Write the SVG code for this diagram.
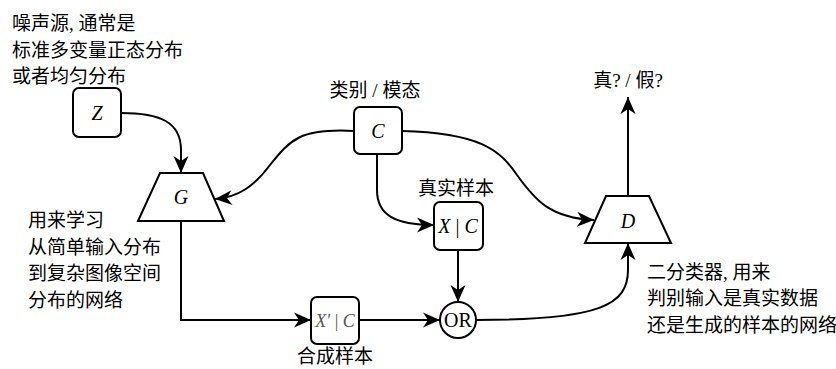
<svg xmlns="http://www.w3.org/2000/svg" width="836" height="369" viewBox="0 0 836 369">
<style>
  .box { fill: #fff; stroke: #000; stroke-width: 2; }
  .edge { fill: none; stroke: #000; stroke-width: 2; marker-end: url(#arr); }
  .lbl { font-family: "Liberation Serif", "Noto Sans CJK SC", serif; font-size: 19px; fill: #000; }
  .math { font-family: "Liberation Serif", serif; font-style: italic; font-size: 20px; fill: #000; }
  .up { font-style: normal; }
  .mid { text-anchor: middle; }
</style>
<defs>
  <marker id="arr" markerUnits="userSpaceOnUse" viewBox="-18 -9 19 18" markerWidth="19" markerHeight="18" refX="0" refY="0" orient="auto" overflow="visible">
    <path d="M0,0 L-17,-7.5 L-12,0 L-17,7.5 Z" fill="#000"/>
  </marker>
</defs>

<g id="connectors">
  <path class="edge" d="M121,113 C160,113 181,122 181,150 L181,173"/>
  <path class="edge" d="M354,131 C300,128 290,140 270,165 C255,185 240,197 215,199"/>
  <path class="edge" d="M402,131 C480,133 500,150 517,175 C535,200 550,218 594,220"/>
  <path class="edge" d="M377,154 L377,190 C377,215 395,225 434,225"/>
  <path class="edge" d="M458,250 L458,302"/>
  <path class="edge" d="M181,221 L181,320 L311,320"/>
  <path class="edge" d="M359,320 L440,320"/>
  <path class="edge" d="M476,320 C600,320 628,305 628,270 L628,243"/>
  <path class="edge" d="M628,196 L628,97"/>
</g>

<g id="noise-label">
  <text class="lbl" x="12" y="30">噪声源, 通常是</text>
  <text class="lbl" x="12" y="57">标准多变量正态分布</text>
  <text class="lbl" x="12" y="83">或者均匀分布</text>
</g>

<g id="node-Z">
  <rect class="box" x="73" y="88" width="48" height="49" rx="6"/>
  <text class="math mid" x="97" y="120">Z</text>
</g>

<g id="node-G">
  <polygon class="box" points="160,173 203,173 224,221 138,221"/>
  <text class="math mid" x="181" y="204">G</text>
</g>

<g id="G-label">
  <text class="lbl" x="28" y="227">用来学习</text>
  <text class="lbl" x="28" y="254">从简单输入分布</text>
  <text class="lbl" x="28" y="280">到复杂图像空间</text>
  <text class="lbl" x="28" y="307">分布的网络</text>
</g>

<g id="node-C">
  <text class="lbl mid" x="375" y="97">类别 / 模态</text>
  <rect class="box" x="354" y="107" width="48" height="47" rx="6"/>
  <text class="math mid" x="378" y="138">C</text>
</g>

<g id="node-XC">
  <text class="lbl mid" x="456" y="195">真实样本</text>
  <rect class="box" x="434" y="202" width="49" height="48" rx="6"/>
  <text class="math mid" x="458" y="233">X<tspan class="up"> | </tspan>C</text>
</g>

<g id="node-XpC">
  <rect class="box" x="311" y="297" width="48" height="47" rx="6"/>
  <text class="math mid" x="335" y="327" style="fill:#555;font-size:18px">X′<tspan class="up"> | </tspan>C</text>
  <text class="lbl mid" x="335" y="363">合成样本</text>
</g>

<g id="node-OR">
  <circle class="box" cx="458" cy="320" r="18"/>
  <text class="lbl mid" x="458" y="327" style="font-size:20px">OR</text>
</g>

<g id="node-D">
  <polygon class="box" points="606,196 649,196 671,243 585,243"/>
  <text class="math mid" x="628" y="228">D</text>
  <text class="lbl mid" x="628" y="87">真? / 假?</text>
</g>

<g id="D-label">
  <text class="lbl" x="647" y="279">二分类器, 用来</text>
  <text class="lbl" x="647" y="305">判别输入是真实数据</text>
  <text class="lbl" x="647" y="332">还是生成的样本的网络</text>
</g>
</svg>
